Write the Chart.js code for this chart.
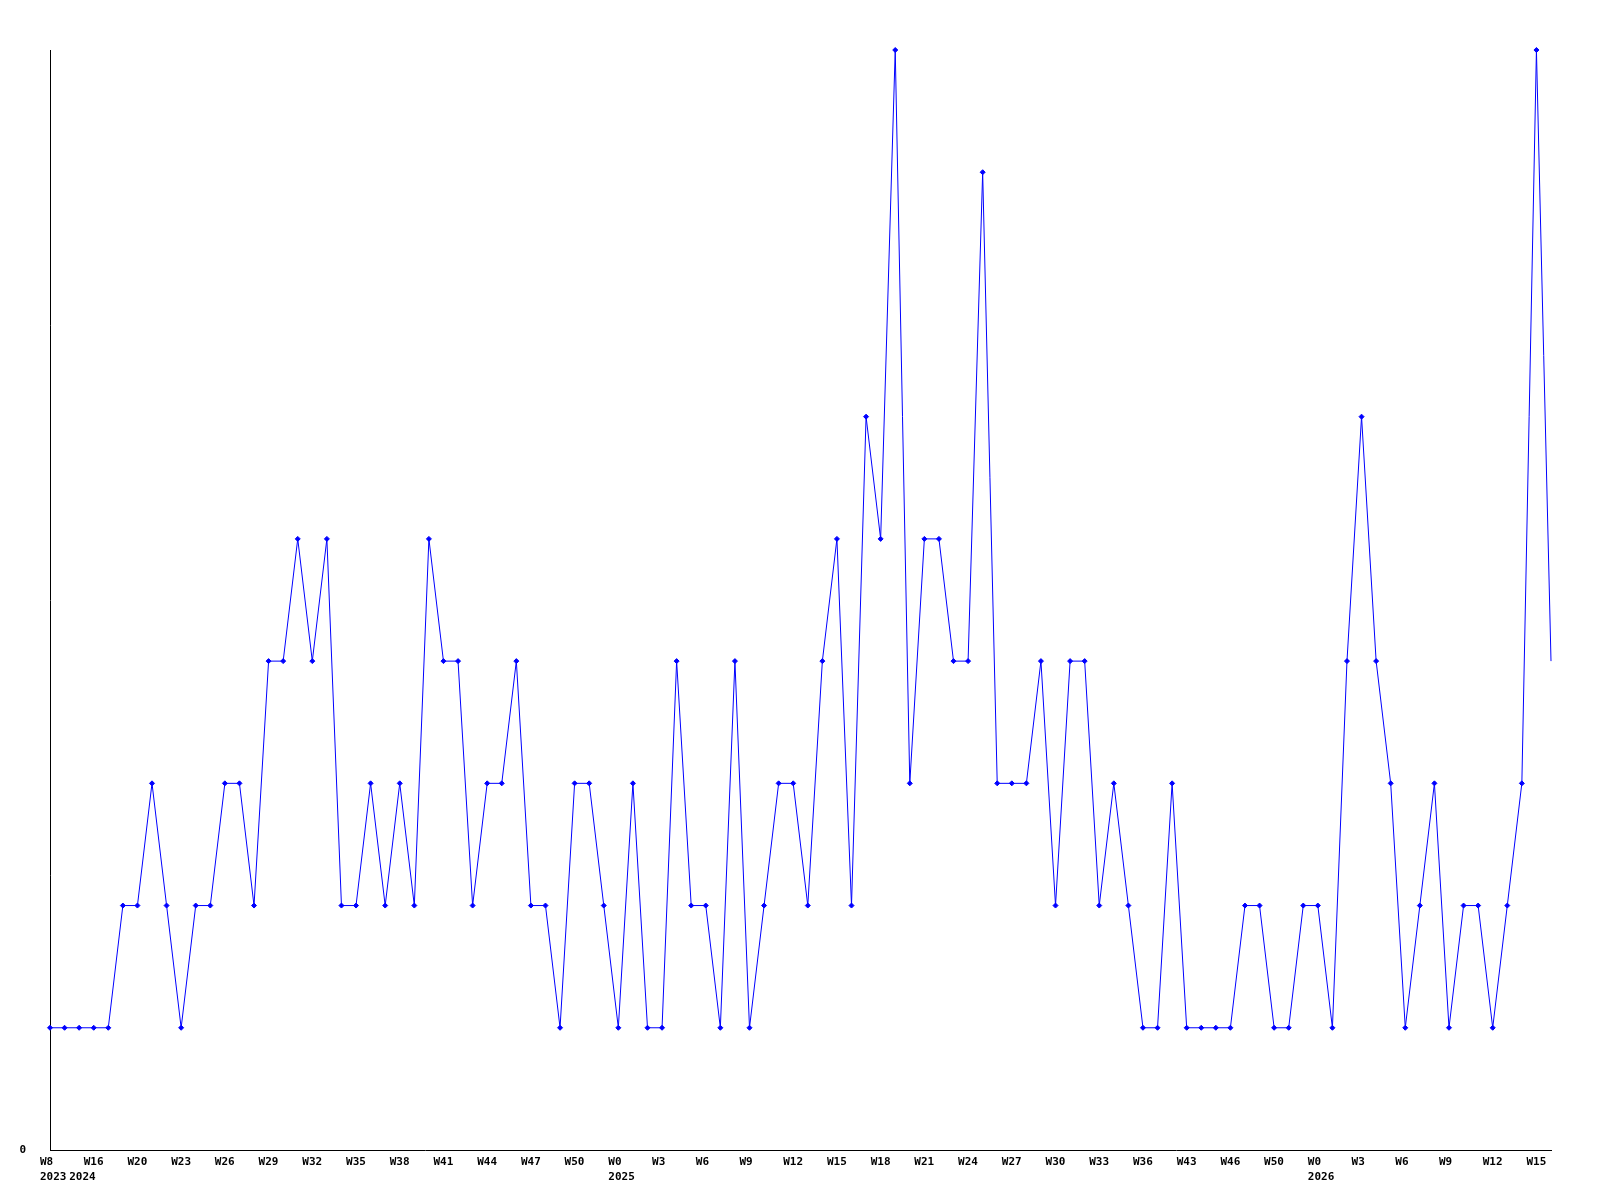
<!DOCTYPE html>
<html>
<head>
<meta charset="utf-8">
<title>Weekly count</title>
<script src="https://cdn.jsdelivr.net/npm/chart.js@4.4.1/dist/chart.umd.min.js"></script>
<style>
  body { margin: 0; background: #fff; }
  #wrap { width: 1600px; height: 1200px; }
</style>
</head>
<body>
<div id="wrap"><canvas id="weekChart" width="1600" height="1200"></canvas></div>
<script>
// week labels, one per point
const weeks = [
  'W8', 'W52', 'W15', 'W16', 'W17', 'W18', 'W20', 'W21', 'W22', 'W23',
  'W24', 'W25', 'W26', 'W27', 'W28', 'W29', 'W30', 'W31', 'W32', 'W33',
  'W34', 'W35', 'W36', 'W37', 'W38', 'W39', 'W40', 'W41', 'W42', 'W43',
  'W44', 'W45', 'W46', 'W47', 'W48', 'W49', 'W50', 'W51', 'W52', 'W0',
  'W1', 'W2', 'W3', 'W4', 'W5', 'W6', 'W7', 'W8', 'W9', 'W10',
  'W11', 'W12', 'W13', 'W14', 'W15', 'W16', 'W17', 'W18', 'W19', 'W20',
  'W21', 'W22', 'W23', 'W24', 'W25', 'W26', 'W27', 'W28', 'W29', 'W30',
  'W31', 'W32', 'W33', 'W34', 'W35', 'W36', 'W37', 'W42', 'W43', 'W44',
  'W45', 'W46', 'W47', 'W49', 'W50', 'W51', 'W52', 'W0', 'W1', 'W2',
  'W3', 'W4', 'W5', 'W6', 'W7', 'W8', 'W9', 'W10', 'W11', 'W12',
  'W13', 'W14', 'W15', 'W16'
];

// counts per week
const counts = [
  1, 1, 1, 1, 1, 2, 2, 3, 2, 1,
  2, 2, 3, 3, 2, 4, 4, 5, 4, 5,
  2, 2, 3, 2, 3, 2, 5, 4, 4, 2,
  3, 3, 4, 2, 2, 1, 3, 3, 2, 1,
  3, 1, 1, 4, 2, 2, 1, 4, 1, 2,
  3, 3, 2, 4, 5, 2, 6, 5, 9, 3,
  5, 5, 4, 4, 8, 3, 3, 3, 4, 2,
  4, 4, 2, 3, 2, 1, 1, 3, 1, 1,
  1, 1, 2, 2, 1, 1, 2, 2, 1, 4,
  6, 4, 3, 1, 2, 3, 1, 2, 2, 1,
  2, 3, 9, 4
];

// first point of each year
const yearIdx = [0, 2, 39, 87];
const yearText = ['2023', '2024', '2025', '2026'];

const labelEvery = 3;
const yMax = 9;

const tickFont = { family: "'DejaVu Sans Mono', monospace", size: 11, weight: 'bold', lineHeight: 1.36 };

function xTickLabel(i) {
  const wk = i % labelEvery === 0 ? weeks[i] : '';
  const y = yearIdx.indexOf(i);
  if (y >= 0) return [wk, yearText[y]];
  return wk;
}

const ctx = document.getElementById('weekChart').getContext('2d');
const lastIdx = counts.length - 1;

new Chart(ctx, {
  type: 'line',
  data: {
    labels: weeks,
    datasets: [{
      data: counts,
      borderColor: '#0000ff',
      backgroundColor: '#0000ff',
      borderWidth: 1,
      tension: 0,
      fill: false,
      clip: false,
      pointStyle: 'rectRot',
      pointRadius: c => c.dataIndex === lastIdx ? 0 : 2.5,
      pointBorderWidth: 1,
      pointHoverRadius: 2.5
    }]
  },
  options: {
    responsive: false,
    animation: false,
    layout: { padding: { top: 50, right: 49, left: 0, bottom: 0 } },
    plugins: { legend: { display: false }, tooltip: { enabled: false } },
    scales: {
      x: {
        type: 'category',
        offset: false,
        grid: { display: false, drawTicks: false },
        border: { display: true, color: '#000', width: 1 },
        afterFit: s => { s.height = 50; },
        ticks: {
          autoSkip: false,
          maxRotation: 0,
          minRotation: 0,
          align: 'start',
          labelOffset: -10,
          padding: 5,
          color: '#000',
          font: tickFont,
          callback: (v, i) => xTickLabel(i)
        }
      },
      y: {
        min: 0,
        max: yMax,
        grid: { display: false, drawTicks: false },
        border: { display: true, color: '#000', width: 1 },
        afterFit: s => { s.width = 50; },
        ticks: {
          stepSize: 1,
          padding: 24,
          color: '#000',
          font: tickFont,
          callback: v => v === 0 ? '0' : ''
        }
      }
    }
  }
});
</script>
</body>
</html>
